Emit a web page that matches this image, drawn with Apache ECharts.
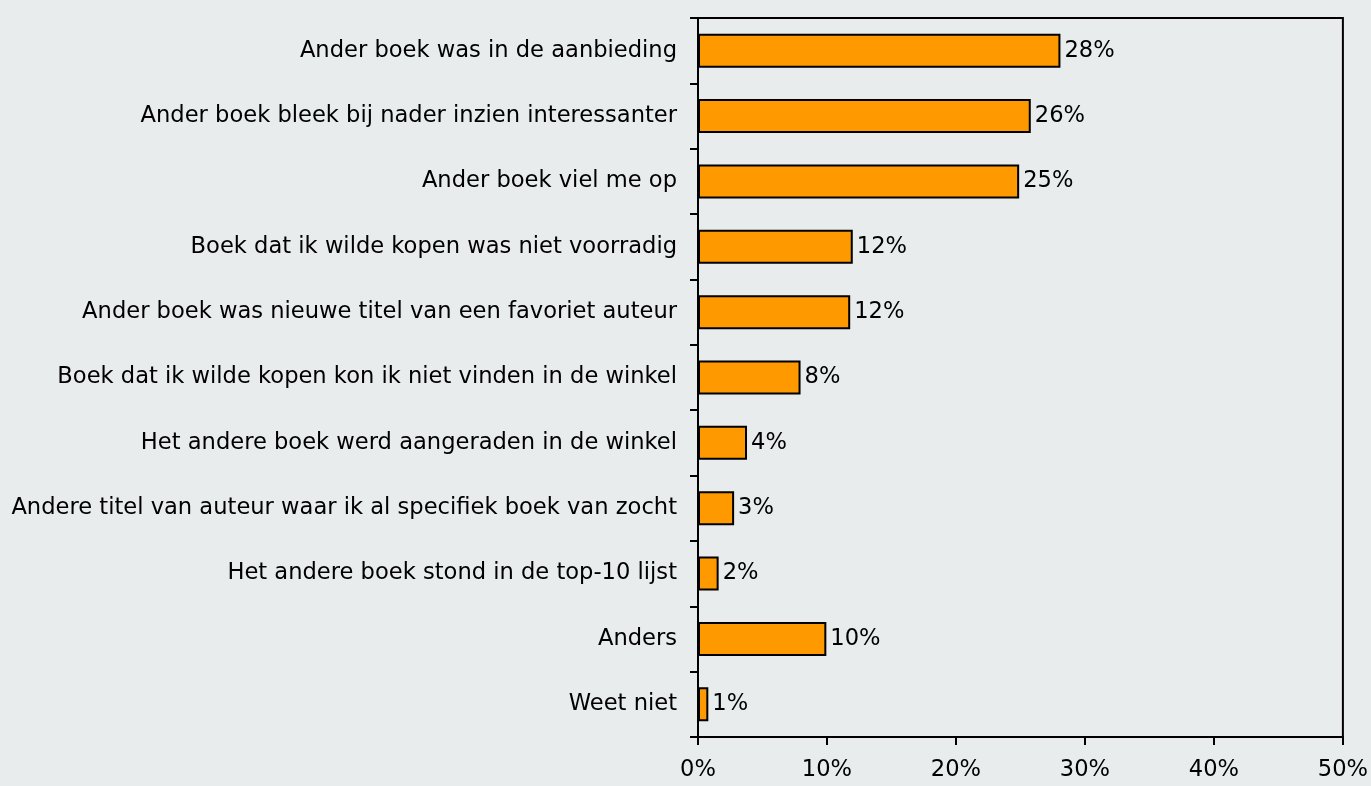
<!DOCTYPE html>
<html>
<head>
<meta charset="utf-8">
<script src="https://cdn.jsdelivr.net/npm/echarts@6/dist/echarts.min.js"></script>
<style>
html,body{margin:0;padding:0;background:#E8ECEC;}
#chart{width:1371px;height:786px;}
</style>
</head>
<body>
<div id="chart"></div>
<script>
const categories = [
  "Ander boek was in de aanbieding",
  "Ander boek bleek bij nader inzien interessanter",
  "Ander boek viel me op",
  "Boek dat ik wilde kopen was niet voorradig",
  "Ander boek was nieuwe titel van een favoriet auteur",
  "Boek dat ik wilde kopen kon ik niet vinden in de winkel",
  "Het andere boek werd aangeraden in de winkel",
  "Andere titel van auteur waar ik al specifiek boek van zocht",
  "Het andere boek stond in de top-10 lijst",
  "Anders",
  "Weet niet"
];
const values = [28.1, 25.8, 24.9, 12.0, 11.8, 7.95, 3.8, 2.8, 1.6, 9.95, 0.8];
const xTicks = [0, 10, 20, 30, 40, 50];

const chart = echarts.init(document.getElementById('chart'));
const font = '"DejaVu Sans", sans-serif';
const fs = 22.6;
chart.setOption({
  backgroundColor: '#E8ECEC',
  animation: false,
  grid: {
    left: 698, right: 28, top: 18, bottom: 49,
    show: true, borderColor: '#000', borderWidth: 2, backgroundColor: 'transparent'
  },
  xAxis: {
    type: 'value',
    min: xTicks[0], max: xTicks[xTicks.length - 1], interval: 10,
    axisLine: { show: true, lineStyle: { color: '#000', width: 2 } },
    axisTick: { show: true, length: 8, lineStyle: { color: '#000', width: 2 } },
    splitLine: { show: false },
    axisLabel: { formatter: v => v + '%', color: '#000', fontSize: fs, fontFamily: font, margin: 22 }
  },
  yAxis: {
    type: 'category',
    data: categories,
    inverse: true,
    axisLine: { show: true, lineStyle: { color: '#000', width: 2 } },
    axisTick: { show: true, length: 8, lineStyle: { color: '#000', width: 2 } },
    axisLabel: { color: '#000', fontSize: fs, fontFamily: font, margin: 21 }
  },
  series: [{
    type: 'bar',
    data: values,
    barWidth: '52%',
    itemStyle: { color: '#FF9900', borderColor: '#000', borderWidth: 2 },
    label: {
      show: true, position: 'right', distance: 4,
      formatter: p => Math.round(p.value) + '%',
      color: '#000', fontSize: fs, fontFamily: font
    }
  }]
});
</script>
</body>
</html>
